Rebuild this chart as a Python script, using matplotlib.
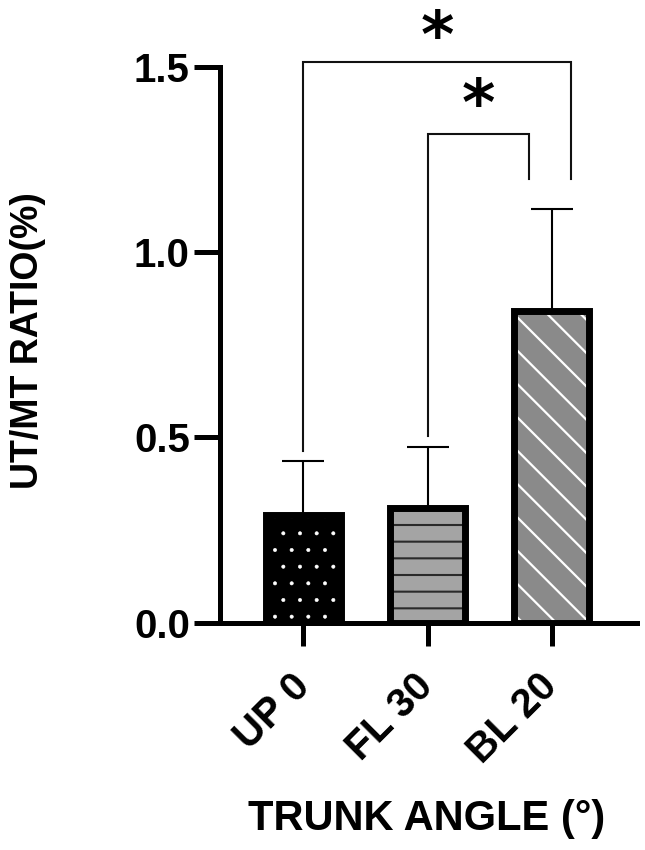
import matplotlib
matplotlib.use("Agg")
import matplotlib.pyplot as plt

# values
groups = ["UP 0", "FL 30", "BL 20"]
means = [0.29, 0.31, 0.84]
sds = [0.145, 0.165, 0.275]

faces = ["black", "#a4a4a4", "#8a8a8a"]
hatch_cols = ["white", "#2a2a2a", "white"]
hatches = [".", "-", "\\"]
hatch_lws = [0.4, 1.5, 1.6]

# significance brackets: x-left, x-right, top, left-leg end, right-leg end
sig_x1 = [0, 1]
sig_x2 = [2.16, 1.82]
sig_top = [1.512, 1.319]
sig_y1 = [0.463, 0.503]
sig_y2 = [1.197, 1.197]
star_y = [1.575, 1.39]

plt.rcParams["font.family"] = ["Liberation Sans", "DejaVu Sans"]
plt.rcParams["font.weight"] = "bold"

fig = plt.figure(figsize=(6.45, 8.5), dpi=100)
ax = fig.add_axes([0.3411, 0.2674, 0.6465, 0.6541])

xs = list(range(len(groups)))
for i in xs:
    with plt.rc_context({"hatch.linewidth": hatch_lws[i]}):
        fill = ax.bar(xs[i], means[i], width=0.6, color=faces[i],
                      edgecolor=hatch_cols[i], hatch=hatches[i],
                      linewidth=0, zorder=2)
    for p in fill:
        if hasattr(p, "set_hatch_linewidth"):
            p.set_hatch_linewidth(hatch_lws[i])
ax.bar(xs, means, width=0.6, facecolor="none", edgecolor="black",
       linewidth=5, joinstyle="miter", zorder=3)

ax.errorbar(xs, means, yerr=[[0] * len(sds), sds], fmt="none",
            ecolor="black", elinewidth=1.5, capsize=14.8, capthick=1.5,
            zorder=1)

for x1, x2, top, y1, y2, sy in zip(sig_x1, sig_x2, sig_top, sig_y1, sig_y2, star_y):
    ax.plot([x1, x1, x2, x2], [y1, top, top, y2], color="#111111",
            lw=1.5, clip_on=False, solid_joinstyle="miter")
    ax.text((x1 + x2) / 2, sy, "*", ha="center", va="center",
            fontsize=46, fontweight="bold", family="DejaVu Sans",
            clip_on=False)

ax.set_xlim(-0.673, 2.689)
ax.set_ylim(0, 1.5)
ax.set_yticks([0.0, 0.5, 1.0, 1.5])
ax.set_yticklabels(["0.0", "0.5", "1.0", "1.5"])
ax.set_xticks(xs)
ax.set_xticklabels(groups, rotation=45, ha="right", va="center",
                   rotation_mode="anchor")

for side in ["top", "right"]:
    ax.spines[side].set_visible(False)
for side in ["left", "bottom"]:
    ax.spines[side].set_linewidth(3.6)
    ax.spines[side].set_capstyle("projecting")

ax.tick_params(axis="y", length=18.7, width=3.6, pad=3, labelsize=29)
ax.tick_params(axis="x", length=16.5, width=3.6, pad=25, labelsize=29)

ax.set_ylabel("UT/MT RATIO(%)", fontsize=27, fontweight="bold",
              ha="center", va="center")
ax.yaxis.set_label_coords(-0.46, 0.508)
ax.set_xlabel("TRUNK ANGLE (°)", fontsize=30, fontweight="bold",
              ha="center", va="center")
ax.xaxis.set_label_coords(0.495, -0.353)

fig.savefig("out.png", dpi=100)
